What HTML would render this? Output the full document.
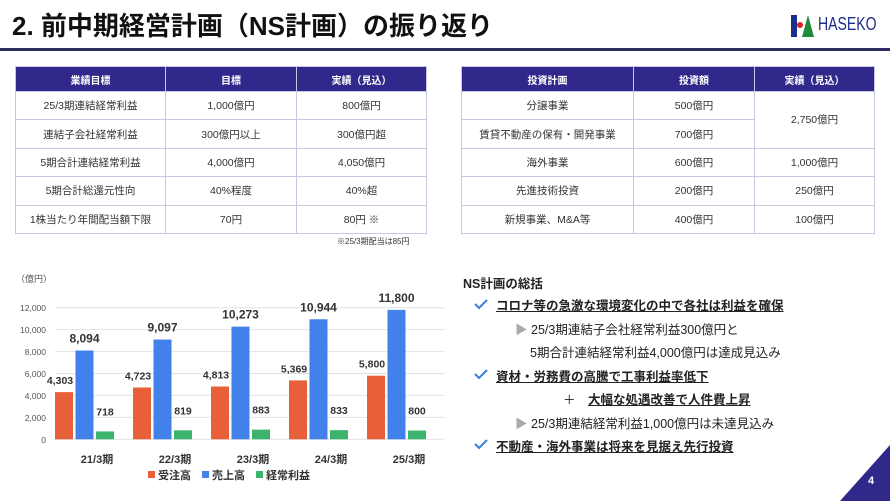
<!DOCTYPE html>
<html><head><meta charset="utf-8"><style>
*{margin:0;padding:0;box-sizing:border-box}
body{width:890px;height:501px;overflow:hidden;background:#fff;position:relative;font-family:"Liberation Sans","Noto Sans CJK JP",sans-serif;color:#222}
.a{position:absolute;white-space:nowrap}
table{position:absolute;border-collapse:collapse;font-size:10.5px;color:#333}
td,th{border:1px solid #c9c6e0;text-align:center;padding:0}
th{background:#30288a;color:#fff;font-weight:bold;height:25px;font-size:10px}
td{height:28.4px}
.t{font-size:12.5px;color:#222}
.u{text-decoration:underline;font-weight:bold}
</style></head><body>
<div class="a" style="left:12px;top:6px;font-size:26px;font-weight:bold;color:#111">2. 前中期経営計画（NS計画）の振り返り</div>
<div class="a" style="left:0;top:48px;width:890px;height:3px;background:#2e2b5f"></div>
<div class="a" style="left:791px;top:15px;width:6px;height:22px;background:#1e2f8a"></div>
<div class="a" style="left:797px;top:22px;width:6px;height:6px;border-radius:50%;background:#e02020"></div>
<svg class="a" style="left:802px;top:15px" width="12" height="22"><polygon points="6,0 12,22 0,22" fill="#1f8a3a"/></svg>
<div class="a" style="left:818px;top:14px;font-size:18px;color:#1e2f8a;transform:scaleX(0.78);transform-origin:left">HASEKO</div>

<table style="left:15px;top:66px;width:412px">
<tr><th style="width:150px">業績目標</th><th style="width:131px">目標</th><th>実績（見込）</th></tr>
<tr><td>25/3期連結経常利益</td><td>1,000億円</td><td>800億円</td></tr>
<tr><td>連結子会社経常利益</td><td>300億円以上</td><td>300億円超</td></tr>
<tr><td>5期合計連結経常利益</td><td>4,000億円</td><td>4,050億円</td></tr>
<tr><td>5期合計総還元性向</td><td>40%程度</td><td>40%超</td></tr>
<tr><td>1株当たり年間配当額下限</td><td>70円</td><td>80円 ※</td></tr>
</table>
<div class="a" style="left:337px;top:236px;font-size:8px;color:#333">※25/3期配当は85円</div>

<table style="left:461px;top:66px;width:414px">
<tr><th style="width:172px">投資計画</th><th style="width:121px">投資額</th><th>実績（見込）</th></tr>
<tr><td>分譲事業</td><td>500億円</td><td rowspan="2">2,750億円</td></tr>
<tr><td>賃貸不動産の保有・開発事業</td><td>700億円</td></tr>
<tr><td>海外事業</td><td>600億円</td><td>1,000億円</td></tr>
<tr><td>先進技術投資</td><td>200億円</td><td>250億円</td></tr>
<tr><td>新規事業、M&amp;A等</td><td>400億円</td><td>100億円</td></tr>
</table>

<svg class="a" style="left:0;top:260px" width="450" height="241" font-family="Liberation Sans, Noto Sans CJK JP, sans-serif">
<text x="16" y="22" font-size="9" fill="#555">（億円）</text>
<g stroke="#e2e2e2" stroke-width="1">
<line x1="55" x2="445" y1="47.7" y2="47.7"/><line x1="55" x2="445" y1="69.6" y2="69.6"/><line x1="55" x2="445" y1="91.6" y2="91.6"/><line x1="55" x2="445" y1="113.5" y2="113.5"/><line x1="55" x2="445" y1="135.4" y2="135.4"/><line x1="55" x2="445" y1="157.4" y2="157.4"/><line x1="55" x2="445" y1="179.3" y2="179.3"/>
</g>
<g font-size="8.5" fill="#555" text-anchor="end">
<text x="46" y="51">12,000</text><text x="46" y="73">10,000</text><text x="46" y="95">8,000</text><text x="46" y="117">6,000</text><text x="46" y="139">4,000</text><text x="46" y="161">2,000</text><text x="46" y="183">0</text>
</g>
<g id="bars"></g>
<g font-size="11" font-weight="bold" fill="#333" text-anchor="middle">
<text x="97" y="203">21/3期</text><text x="175" y="203">22/3期</text><text x="253" y="203">23/3期</text><text x="331" y="203">24/3期</text><text x="409" y="203">25/3期</text>
</g>
<g font-size="11" font-weight="bold" fill="#333">
<rect x="148" y="211" width="7" height="7" fill="#e8603a"/><text x="158" y="219">受注高</text>
<rect x="202" y="211" width="7" height="7" fill="#4281ea"/><text x="212" y="219">売上高</text>
<rect x="256" y="211" width="7" height="7" fill="#3cb46e"/><text x="266" y="219">経常利益</text>
</g>
</svg>
<script>
var d=[[4303,8094,718],[4723,9097,819],[4813,10273,883],[5369,10944,833],[5800,11800,800]];
var c=['#e8603a','#4281ea','#3cb46e'],s='';
d.forEach(function(g,i){var x0=55+i*78;g.forEach(function(v,j){var h=v*0.010967,x=x0+j*20.5,y=179.3-h;
s+='<rect x="'+x+'" y="'+y+'" width="18" height="'+h+'" fill="'+c[j]+'"/>';
var fs=j==1?12:10.5,ly=y-(j==1?8:6);if(j==0)ly=y-8;if(j==2)ly=y-16;
s+='<text x="'+(x+9-(j==0?4:0))+'" y="'+ly+'" font-size="'+fs+'" font-weight="bold" fill="#333" text-anchor="middle">'+v.toLocaleString('en-US')+'</text>';});});
document.getElementById('bars').innerHTML=s;
</script>

<div class="a" style="left:463px;top:273px;font-size:12.5px;font-weight:bold">NS計画の総括</div>
<svg class="a" style="left:474px;top:298px" width="14" height="170"><g stroke="#3a7ee0" stroke-width="2" fill="none"><polyline points="1,6 5,10 13,2"/><polyline points="1,76 5,80 13,72"/><polyline points="1,146 5,150 13,142"/></g></svg>
<div class="a t u" style="left:496px;top:295px">コロナ等の急激な環境変化の中で各社は利益を確保</div>
<div class="a t" style="left:515px;top:319px"><span style="color:#aaa">▶</span> 25/3期連結子会社経常利益300億円と</div>
<div class="a t" style="left:530px;top:342px">5期合計連結経常利益4,000億円は達成見込み</div>
<div class="a t u" style="left:496px;top:366px">資材・労務費の高騰で工事利益率低下</div>
<div class="a t" style="left:563px;top:389px">＋　<span class="u">大幅な処遇改善で人件費上昇</span></div>
<div class="a t" style="left:515px;top:413px"><span style="color:#aaa">▶</span> 25/3期連結経常利益1,000億円は未達見込み</div>
<div class="a t u" style="left:496px;top:436px">不動産・海外事業は将来を見据え先行投資</div>

<svg class="a" style="left:840px;top:445px" width="50" height="56"><polygon points="50,0 50,56 0,56" fill="#30288a"/></svg>
<div class="a" style="left:868px;top:475px;font-size:11px;font-weight:bold;color:#fff">4</div>
</body></html>
